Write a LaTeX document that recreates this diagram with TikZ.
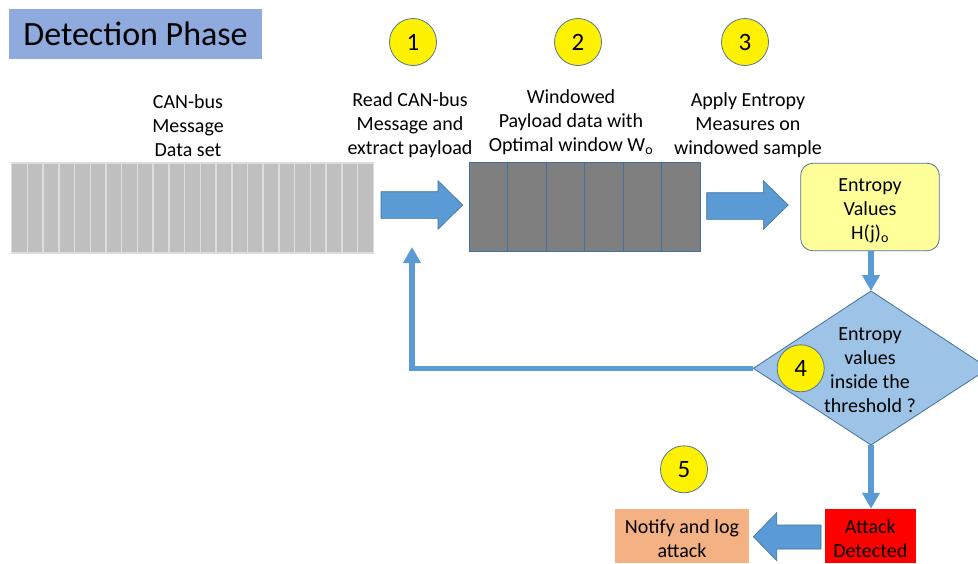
\documentclass[tikz,border=0pt]{standalone}
\usepackage{fontspec}
\setmainfont{Carlito}
\usetikzlibrary{arrows.meta}
\definecolor{ablue}{HTML}{5B9BD5}
\definecolor{bordc}{HTML}{41719C}
\definecolor{diafill}{HTML}{9DC3E6}
\definecolor{paleyel}{HTML}{FFFF99}
\definecolor{orng}{HTML}{F4B183}
\definecolor{titleblue}{HTML}{8FAADC}
\definecolor{lgray}{HTML}{BFBFBF}
\definecolor{llgray}{HTML}{DDDDDD}
\definecolor{dgray}{HTML}{7F7F7F}
\begin{document}
\begin{tikzpicture}[x=1pt,y=-1pt,
  txt/.style={align=center,font=\fontsize{20}{24}\selectfont,inner sep=0pt},
  num/.style={circle,fill=yellow,draw=bordc!70!gray,line width=0.8pt,minimum size=47pt,inner sep=0pt,font=\fontsize{25}{28}\selectfont},
  conn/.style={draw=ablue,line width=5.5pt,-{Triangle[width=17pt,length=16pt]}},
  blockarrow/.style={fill=ablue,draw=bordc,line width=0.6pt},
  boxnode/.style={inner sep=0pt}]
\clip (0,0) rectangle (978,563);
\fill[white] (0,0) rectangle (978,563);
% title
\node[fill=titleblue,minimum width=253pt,minimum height=50pt,inner sep=0pt,font=\fontsize{34}{40}\selectfont] (title) at (135.5,34) {Detection Phase};
% number circles
\node[num] (n1) at (413,42) {1};
\node[num] (n2) at (578,42) {2};
\node[num] (n3) at (745,42) {3};
\node[num] (n5) at (684,469.3) {5};
% captions
\node[txt] (capdata) at (188,126) {CAN-bus\\Message\\Data set};
\node[txt] (capread) at (410,125.5) {Read CAN-bus\\Message and\\extract payload};
\node[txt] (capwin) at (571,122) {Windowed\\Payload data with\\Optimal window W\textsubscript{o}};
\node[txt] (capapp) at (748,125.5) {Apply Entropy\\Measures on\\windowed sample};
% data set bar
\node[inner sep=0pt,minimum width=361.6pt,minimum height=90pt,fill=lgray,draw=llgray,line width=1.2pt] (data) at (192.5,208) {};
\foreach \i in {1,...,22} {
  \draw[llgray,line width=1.5pt] ({11.7+\i*15.72},163) -- ({11.7+\i*15.72},253);
}
% windowed bar
\node[inner sep=0pt,minimum width=231pt,minimum height=89pt,fill=dgray,draw=bordc,line width=1pt] (win) at (584.5,206.5) {};
\foreach \i in {1,...,5} {
  \draw[bordc,line width=1pt] ({469+\i*38.5},162) -- ({469+\i*38.5},251);
}
% block arrows
\fill[blockarrow] (381,191.7) -- (438,191.7) -- (438,180.7) -- (462.7,205) -- (438,229.3) -- (438,218.3) -- (381,218.3) -- cycle;
\fill[blockarrow] (706.7,192.7) -- (763.3,192.7) -- (763.3,180.7) -- (788.3,205) -- (763.3,229.3) -- (763.3,219.3) -- (706.7,219.3) -- cycle;
\fill[blockarrow] (821,525) -- (776.7,525) -- (776.7,512.7) -- (753.3,536.7) -- (776.7,560.7) -- (776.7,549) -- (821,549) -- cycle;
% entropy box
\node[boxnode,fill=paleyel,draw=bordc!80!gray,line width=0.8pt,rounded corners=12pt,minimum width=138.6pt,minimum height=87.4pt] (ent) at (870,207) {};
\node[txt] (enttext) at (870,210.5) {Entropy\\Values\\H(j)\textsubscript{o}};
% diamond
\coordinate (dtop) at (871,291);
\coordinate (dleft) at (753.3,368.3);
\coordinate (dbot) at (871,445);
\coordinate (dright) at (988.7,368.3);
\filldraw[fill=diafill,draw=bordc,line width=0.8pt] (dtop) -- (dleft) -- (dbot) -- (dright) -- cycle;
\node[txt] (dtext) at (870,370) {Entropy\\values\\inside the\\threshold ?};
\node[num] (n4) at (800.7,368.3) {4};
% bottom boxes
\node[boxnode,fill=red,minimum width=90.7pt,minimum height=53.7pt] (att) at (870.3,535.8) {};
\node[txt] (atttext) at (870.3,538.3) {Attack\\Detected};
\node[boxnode,fill=orng,minimum width=134pt,minimum height=53.7pt] (notify) at (682,535.8) {};
\node[txt] (notifytext) at (682,538.3) {Notify and log\\attack};
% connectors
\coordinate (fbtip) at (412,247);
\draw[conn] (ent.south -| dtop) -- (dtop);
\draw[conn] (dbot) -- (att.north -| dbot);
\draw[conn] (dleft) -| (fbtip);
\end{tikzpicture}
\end{document}
